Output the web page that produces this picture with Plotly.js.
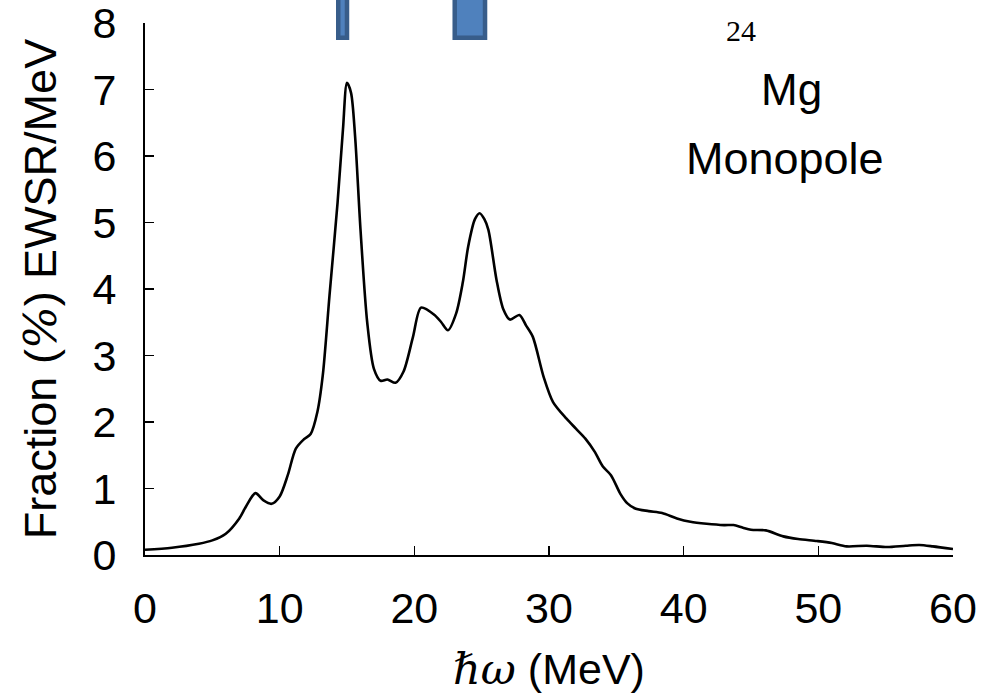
<!DOCTYPE html>
<html>
<head>
<meta charset="utf-8">
<script src="https://cdn.plot.ly/plotly-3.0.1.min.js"></script>
<style>
  html, body { margin: 0; padding: 0; background: #ffffff; }
  #chart { width: 982px; height: 694px; }
</style>
</head>
<body>
<div id="chart"></div>
<script>
// Monopole strength distribution of 24Mg (fraction of EWSR per MeV)
const energy = [0, 2, 4, 5, 6, 7, 7.5, 8.2, 8.8, 9.4, 10, 10.6, 11.2, 11.8, 12.3, 12.8, 13.2, 13.7, 14.3, 14.7, 15.0, 15.3, 15.6, 16.0, 16.5, 17.0, 17.5, 18.0, 18.6, 19.2, 19.9, 20.5, 21.5, 22.0, 22.5, 23.1, 23.6, 24.0, 24.5, 24.85, 25.2, 25.5, 26.1, 26.6, 27.1, 27.8, 28.3, 28.8, 29.6, 30.3, 31.3, 32.0, 32.7, 33.4, 34.0, 34.6, 35.3, 35.8, 36.4, 37.4, 38.4, 39.5, 40.5, 41.7, 43.0, 43.7, 44.4, 45.0, 46.1, 47.4, 48.5, 49.9, 51.0, 52.1, 53.6, 55.1, 56.5, 57.5, 58.5, 60];
const strength = [0.08, 0.11, 0.17, 0.22, 0.32, 0.55, 0.73, 0.93, 0.82, 0.77, 0.88, 1.2, 1.6, 1.74, 1.82, 2.15, 2.7, 3.9, 5.3, 6.4, 7.1, 6.95, 6.3, 4.9, 3.5, 2.8, 2.62, 2.64, 2.59, 2.76, 3.28, 3.72, 3.61, 3.5, 3.38, 3.63, 4.1, 4.64, 5.05, 5.14, 5.05, 4.89, 4.14, 3.7, 3.54, 3.61, 3.45, 3.28, 2.68, 2.3, 2.05, 1.9, 1.75, 1.55, 1.33, 1.2, 0.92, 0.78, 0.7, 0.66, 0.63, 0.55, 0.5, 0.47, 0.45, 0.45, 0.41, 0.38, 0.37, 0.28, 0.24, 0.21, 0.18, 0.13, 0.14, 0.12, 0.14, 0.15, 0.13, 0.09];

// Experimental peak ranges marked at the top of the frame (MeV)
const expRangeStart = [14.35, 23.0];
const expRangeEnd = [15.0, 25.25];
const expRangeBase = 7.78;

const yMax = 8;
const xTicks = [0, 10, 20, 30, 40, 50, 60];
const yTicks = [0, 1, 2, 3, 4, 5, 6, 7, 8];

const sans = 'Liberation Sans, Arial, sans-serif';
const serifItalic = "font-family:'DejaVu Serif',serif;font-style:italic";

const trace = {
  x: energy,
  y: strength,
  type: 'scatter',
  mode: 'lines',
  line: { color: '#000000', width: 2.6, shape: 'spline', smoothing: 0.8 },
  hoverinfo: 'x+y'
};

const shapes = expRangeStart.map((x0, i) => ({
  type: 'rect',
  xref: 'x',
  yref: 'paper',
  x0: x0,
  x1: expRangeEnd[i],
  y0: expRangeBase / yMax,
  y1: 1.1,
  fillcolor: '#4F81BD',
  line: { color: '#385D8A', width: 4.5 },
  layer: 'above'
}));

const layout = {
  width: 982,
  height: 694,
  margin: { l: 145, r: 29, t: 23, b: 139 },
  paper_bgcolor: '#ffffff',
  plot_bgcolor: '#ffffff',
  showlegend: false,
  font: { family: sans, size: 43, color: '#000000' },
  xaxis: {
    range: [0, 60],
    tickvals: xTicks,
    ticktext: xTicks.map(String),
    ticks: 'inside',
    ticklen: 9,
    tickwidth: 1.5,
    tickcolor: '#000000',
    showline: true,
    linecolor: '#000000',
    linewidth: 2,
    showgrid: false,
    zeroline: false,
    ticklabelstandoff: 14,
    ticklabeloverflow: 'allow',
    tickfont: { family: sans, size: 43, color: '#000000' },
    title: {
      text: '<span style="' + serifItalic + '">ℏω</span> (MeV)',
      font: { family: sans, size: 43, color: '#000000' },
      standoff: 24
    }
  },
  yaxis: {
    range: [0, yMax],
    tickvals: yTicks,
    ticktext: yTicks.map(String),
    ticks: 'inside',
    ticklen: 9,
    tickwidth: 1.5,
    tickcolor: '#000000',
    showline: true,
    linecolor: '#000000',
    linewidth: 2,
    showgrid: false,
    zeroline: false,
    ticklabelstandoff: 18,
    ticklabeloverflow: 'allow',
    tickfont: { family: sans, size: 43, color: '#000000' },
    title: {
      text: 'Fraction (<span style="' + serifItalic + '">%</span>) EWSR/MeV',
      font: { family: sans, size: 45, color: '#000000' },
      standoff: 22
    }
  },
  shapes: shapes,
  annotations: [
    {
      x: 44.26, y: 7.88, xref: 'x', yref: 'y',
      text: '24', showarrow: false,
      font: { family: 'Liberation Serif, Times New Roman, serif', size: 30, color: '#000000' }
    },
    {
      x: 48.0, y: 7.0, xref: 'x', yref: 'y',
      text: 'Mg', showarrow: false,
      font: { family: sans, size: 44, color: '#000000' }
    },
    {
      x: 47.5, y: 5.97, xref: 'x', yref: 'y',
      text: 'Monopole', showarrow: false,
      font: { family: sans, size: 45, color: '#000000' }
    }
  ]
};

Plotly.newPlot('chart', [trace], layout, { displayModeBar: false, staticPlot: true });
</script>
</body>
</html>
